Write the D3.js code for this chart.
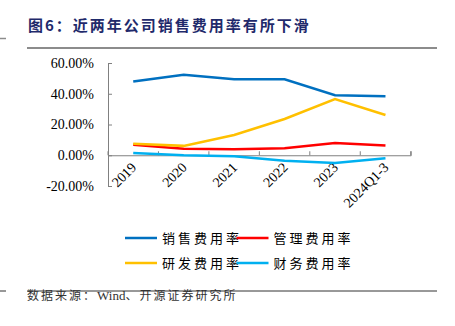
<!DOCTYPE html>
<html>
<head>
<meta charset="utf-8">
<script src="https://cdn.jsdelivr.net/npm/d3@7"></script>
<style>
  body { margin: 0; background: #fff; }
  svg { display: block; }
</style>
</head>
<body>
<script>
const years = ["2019", "2020", "2021", "2022", "2023", "2024Q1-3"];
const sales = [47.9, 52.4, 49.4, 49.4, 39.0, 38.4];
const admin = [6.9, 4.3, 3.9, 4.5, 8.0, 6.3];
const rnd = [7.4, 6.1, 13.2, 23.6, 36.6, 26.2];
const finance = [1.5, 0.0, -0.6, -3.5, -5.0, -2.0];
const yTicks = [-20, 0, 20, 40, 60];

const series = [
  {name: "销售费用率", values: sales, color: "#0070C0"},
  {name: "管理费用率", values: admin, color: "#FF0000"},
  {name: "研发费用率", values: rnd, color: "#FFC000"},
  {name: "财务费用率", values: finance, color: "#00B0F0"}
];

const width = 455, height = 326;
const serif = "'Liberation Serif', 'Times New Roman', serif";
const cjk = "'Noto Sans CJK SC', sans-serif";

const svg = d3.select("body").append("svg")
    .attr("width", width)
    .attr("height", height);

// title + rules
svg.append("text")
    .attr("x", 28)
    .attr("y", 31)
    .attr("fill", "#1F2A6B")
    .attr("font-family", cjk)
    .attr("font-size", 15)
    .attr("font-weight", "bold")
    .style("letter-spacing", "2px")
    .text("图6：近两年公司销售费用率有所下滑");

svg.append("line").attr("x1", 27).attr("x2", 437).attr("y1", 48).attr("y2", 48)
    .attr("stroke", "#8c8c8c").attr("stroke-width", 2);
svg.append("line").attr("x1", 0).attr("x2", 6).attr("y1", 38.5).attr("y2", 38.5)
    .attr("stroke", "#8c8c8c").attr("stroke-width", 1.5);

svg.append("line").attr("x1", 27).attr("x2", 437).attr("y1", 291).attr("y2", 291)
    .attr("stroke", "#333").attr("stroke-width", 1);
svg.append("line").attr("x1", 0).attr("x2", 6).attr("y1", 291).attr("y2", 291)
    .attr("stroke", "#333").attr("stroke-width", 1);

const src = svg.append("text")
    .attr("x", 27)
    .attr("y", 300)
    .attr("fill", "#333")
    .attr("font-size", 12);
src.append("tspan").attr("font-family", cjk).style("letter-spacing", "2px").text("数据来源：");
src.append("tspan").attr("font-family", serif).attr("font-size", 13).text("Wind");
src.append("tspan").attr("font-family", cjk).style("letter-spacing", "2px").text("、开源证券研究所");

// scales
const x = d3.scaleBand()
    .domain(years)
    .range([108, 410.7]);

const y = d3.scaleLinear()
    .domain([-20, 60])
    .range([186, 63]);

// y axis
const yAxis = svg.append("g")
    .attr("transform", "translate(108,0)")
    .call(d3.axisLeft(y).tickValues(yTicks).tickSize(-4).tickPadding(14)
      .tickFormat(d => d.toFixed(2) + "%"))
    .attr("font-family", serif)
    .attr("font-size", 14);
yAxis.selectAll("line").attr("stroke", "#808080");
yAxis.select(".domain").attr("stroke", "#808080");
yAxis.selectAll("text").attr("fill", "#000");

// x axis on zero line
const xAxis = svg.append("g")
    .attr("transform", `translate(0,${y(0)})`)
    .call(d3.axisBottom(x).tickSize(-4).tickSizeOuter(-4).tickFormat(""));
xAxis.selectAll(".tick").remove();
xAxis.select(".domain").attr("stroke", "#808080");

// tick marks at band edges
svg.append("g")
  .selectAll("line")
  .data(years.concat(["end"]))
  .join("line")
    .attr("x1", (d, i) => i < years.length ? x(d) : x.range()[1])
    .attr("x2", (d, i) => i < years.length ? x(d) : x.range()[1])
    .attr("y1", y(0))
    .attr("y2", y(0) - 4)
    .attr("stroke", "#808080");

// x labels rotated
svg.append("g")
    .attr("font-family", serif)
    .attr("font-size", 14)
  .selectAll("text")
  .data(years)
  .join("text")
    .attr("transform", d => `translate(${x(d) + x.bandwidth() / 2 + 4},${y(0) + 13}) rotate(-45)`)
    .attr("text-anchor", "end")
    .text(d => d);

// lines
const line = d3.line()
    .x((d, i) => x(years[i]) + x.bandwidth() / 2)
    .y(d => y(d));

svg.append("g")
  .selectAll("path")
  .data(series)
  .join("path")
    .attr("d", d => line(d.values))
    .attr("fill", "none")
    .attr("stroke", d => d.color)
    .attr("stroke-width", 2.5);

// legend
const legend = svg.append("g")
  .selectAll("g")
  .data(series)
  .join("g")
    .attr("transform", (d, i) => `translate(${125 + (i % 2) * 111.5},${238 + Math.floor(i / 2) * 25})`);

legend.append("line")
    .attr("x1", 0).attr("x2", 32)
    .attr("stroke", d => d.color)
    .attr("stroke-width", 2.5);

legend.append("text")
    .attr("x", 37)
    .attr("dy", "0.35em")
    .attr("font-family", cjk)
    .attr("font-size", 13)
    .style("letter-spacing", "3px")
    .attr("fill", "#000")
    .text(d => d.name);
</script>
</body>
</html>
